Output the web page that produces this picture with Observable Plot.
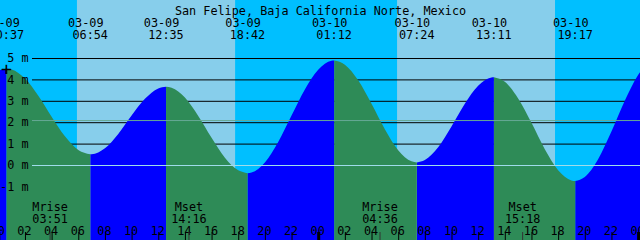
<!DOCTYPE html>
<html><head><meta charset="utf-8">
<script src="https://cdn.jsdelivr.net/npm/d3@7"></script>
<script src="https://cdn.jsdelivr.net/npm/@observablehq/plot@0.6"></script>
<style>
html,body{margin:0;padding:0;background:#fff;}
#chart{width:640px;height:240px;overflow:hidden;}
</style></head><body><div id="chart"></div>
<script>
const title = "San Felipe, Baja California Norte, Mexico";
const days = ["03-09", "03-10", "03-11"];

// tide extremes (high / low)
const tideDates = ["03-09","03-09","03-09","03-09","03-10","03-10","03-10","03-10"];
const tideTimes = ["00:37","06:54","12:35","18:42","01:12","07:24","13:11","19:17"];
const tideHeights = [4.5, 0.5, 3.66, -0.38, 4.88, 0.12, 4.1, -0.75];

// tide height at each hour (hours since 03-09 00:00)
const hourlyHours = [-1,0,1,2,3,4,5,6,7,8,9,10,11,12,13,14,15,16,17,18,19,20,21,22,23,24,
  25,26,27,28,29,30,31,32,33,34,35,36,37,38,39,40,41,42,43,44,45,46,47,48,49];
const hourlyHeights = [3.8,4.4,4.46,4.04,3.24,2.26,1.34,0.7,0.5,0.78,1.45,2.31,3.09,3.58,3.61,3.15,2.29,1.27,0.34,-0.25,
  -0.35,0.12,1.08,2.31,3.53,4.45,4.87,4.69,3.96,2.86,1.67,0.69,0.17,0.23,0.83,1.8,2.86,3.7,4.09,3.89,
  3.11,1.97,0.74,-0.24,-0.72,-0.56,0.27,1.56,3.0,4.21,4.91];

// sun: sunrise / sunset
const sunDates = ["03-09","03-09","03-10","03-10"];
const sunTimes = ["05:54","17:46","05:55","17:46"];
const sunKinds = ["rise","set","rise","set"];

// moon
const moonLabels = ["Mrise","Mset","Mrise","Mset"];
const moonDates = ["03-09","03-09","03-10","03-10"];
const moonTimes = ["03:51","14:16","04:36","15:18"];

const gridLevels = [1, 2, 3, 4, 5];
const refLevels = [0, 2.1];
const yTickLevels = [5, 4, 3, 2, 1, 0, -1];
const hourTicks = d3.range(0, 49, 2);

const toHours = (date, time) => {
  const [hh, mm] = time.split(":").map(Number);
  return days.indexOf(date) * 24 + hh + mm / 60;
};

const tides = tideTimes.map((time, i) => ({t: toHours(tideDates[i], time), h: tideHeights[i], date: tideDates[i], time}));
const tideHours = tides.map(d => d.t);

const pts = [
  ...hourlyHours.map((t, i) => ({t, h: hourlyHeights[i]})),
  ...tides.map(d => ({t: d.t, h: d.h}))
].sort((a, b) => a.t - b.t);

const bounds = [pts[0].t, ...tideHours, pts[pts.length - 1].t];
const ground = [];
for (let s = 0; s < bounds.length - 1; s++) {
  const seg = pts.filter(p => p.t >= bounds[s] && p.t <= bounds[s + 1]);
  const rising = seg[seg.length - 1].h > seg[0].h;
  seg.forEach(p => ground.push({...p, seg: s, phase: rising ? "rise" : "fall"}));
}

const sunHours = sunTimes.map((time, i) => toHours(sunDates[i], time));
const bandEdges = [pts[0].t, ...sunHours, pts[pts.length - 1].t];
const bands = [];
for (let i = 0; i < bandEdges.length - 1; i++) {
  bands.push({start: bandEdges[i], end: bandEdges[i + 1], kind: i % 2 === 0 ? "night" : "day"});
}

const moons = moonLabels.map((label, i) => ({label, time: moonTimes[i], t: toHours(moonDates[i], moonTimes[i])}));

const chart = Plot.plot({
  width: 640,
  height: 240,
  margin: 0,
  x: {domain: [0, 48], range: [-1.7, 638.1], axis: null},
  y: {domain: [0, 5], range: [165, 58], axis: null},
  style: {fontFamily: "'DejaVu Sans Mono', monospace", fontSize: "11.8px", background: "#00BFFF", overflow: "hidden", color: "black"},
  marks: [
    Plot.rect(bands.filter(d => d.kind === "night"), {x1: "start", x2: "end", y1: -4, y2: 8, fill: "#00BFFF"}),
    Plot.rect(bands.filter(d => d.kind === "day"), {x1: "start", x2: "end", y1: -4, y2: 8, fill: "#87CEEB"}),
    Plot.ruleY(gridLevels, {stroke: "black", strokeWidth: 1, insetLeft: 32}),
    Plot.areaY(ground.filter(d => d.phase === "rise"), {x: "t", y1: -4, y2: "h", z: "seg", fill: "#0000FF", curve: "monotone-x"}),
    Plot.areaY(ground.filter(d => d.phase === "fall"), {x: "t", y1: -4, y2: "h", z: "seg", fill: "#2E8B57", curve: "monotone-x"}),
    Plot.ruleY([refLevels[0]], {stroke: "#9fdcea", strokeWidth: 1, insetLeft: 32}),
    Plot.ruleY([refLevels[1]], {stroke: "#66a896", strokeWidth: 1, insetLeft: 32}),
    Plot.text(yTickLevels, {y: d => d, text: d => `${d} m`, frameAnchor: "left", dx: 28, textAnchor: "end", fill: "black"}),
    Plot.text([title], {frameAnchor: "top", dy: 5.7, fill: "black"}),
    Plot.text(tides, {x: "t", text: "date", frameAnchor: "top", dy: 17.9, dx: -5, fill: "black"}),
    Plot.text(tides, {x: "t", text: "time", frameAnchor: "top", dy: 30.5, dx: -0.6, fill: "black"}),
    Plot.text([tides[0]], {x: "t", y: "h", text: () => "+", fontSize: 18, dx: -0.6, fill: "black"}),
    Plot.text(moons, {x: "t", text: "label", frameAnchor: "top", dy: 202.2, fill: "black"}),
    Plot.text(moons, {x: "t", text: "time", frameAnchor: "top", dy: 214.5, fill: "black"}),
    Plot.text(hourTicks, {x: d => d, text: d => String(d % 24).padStart(2, "0"), frameAnchor: "top", dy: 226.2, dx: -1, fill: "black"}),
    Plot.ruleX(hourTicks.filter(d => d % 24 !== 0), {x: d => d, stroke: "black", strokeWidth: 1, insetTop: 232}),
    Plot.ruleX(moons, {x: "t", stroke: "#333", strokeWidth: 1, insetTop: 232}),
    Plot.ruleX(hourTicks.filter(d => d % 24 === 0), {x: d => d, stroke: "black", strokeWidth: 3, insetTop: 232})
  ]
});
document.getElementById("chart").appendChild(chart);
</script></body></html>
